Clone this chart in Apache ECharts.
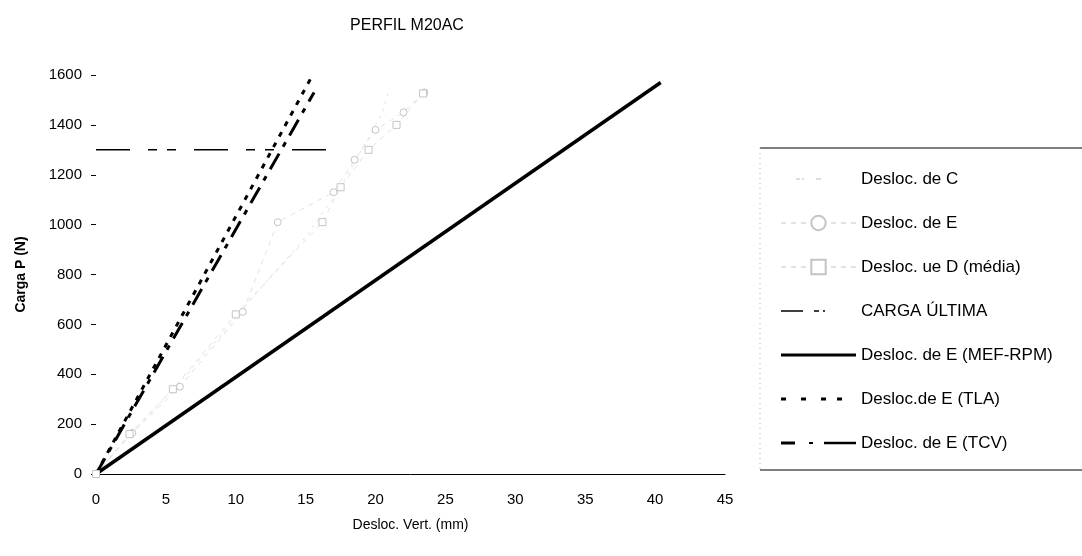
<!DOCTYPE html>
<html>
<head>
<meta charset="utf-8">
<script src="https://cdn.jsdelivr.net/npm/echarts@6/dist/echarts.min.js"></script>
<style>
html,body{margin:0;padding:0;background:#fff;}
#c{width:1082px;height:556px;}
</style>
</head>
<body>
<div id="c"></div>
<script>
var xTicks = [0, 5, 10, 15, 20, 25, 30, 35, 40, 45];
var yTicks = [0, 200, 400, 600, 800, 1000, 1200, 1400, 1600];

var deslocC = [[0,0],[1.5,100],[4,250],[6.5,400],[9,560],[12,760],[15,950],[17.5,1150],[19,1300],[20.5,1450],[21,1550]];
var deslocE = [[0,0],[2.6,165],[6,350],[10.5,650],[13,1010],[17,1130],[18.5,1260],[20,1380],[22,1450],[23.5,1530]];
var deslocD = [[0,0],[2.4,160],[5.5,340],[10,640],[16.2,1010],[17.5,1150],[19.5,1300],[21.5,1400],[23.4,1526]];
var cargaUltima = [[0,1300],[16.7,1300]];
var mefRpm = [[0,0],[40.4,1570]];
var tla = [[0,0],[15.4,1590]];
var tcv = [[0,0],[15.6,1530]];

var names = ['Desloc. de C','Desloc. de E','Desloc. ue D (média)','CARGA ÚLTIMA','Desloc. de E (MEF-RPM)','Desloc.de E (TLA)','Desloc. de E (TCV)'];

// legend icon builder: segments [x0, x1, thickness] inside a 75x14 box
function iconPath(segs) {
  var p = 'path://M0,0h0.01v0.01h-0.01z M74.99,13.99h0.01v0.01h-0.01z';
  segs.forEach(function (s) {
    var t = s[2], y = 7 - t / 2;
    p += ' M' + s[0] + ',' + y + 'h' + (s[1] - s[0]) + 'v' + t + 'h' + (s[0] - s[1]) + 'z';
  });
  return p;
}

var chart = echarts.init(document.getElementById('c'), null, {renderer:'canvas'});
var faint = '#e2e2e2';
var faintMark = '#c4c4c4';
var font = 'Liberation Sans, Arial, sans-serif';
chart.setOption({
  animation:false,
  backgroundColor:'#fff',
  textStyle:{fontFamily:font,color:'#000'},
  title:{text:'PERFIL M20AC',left:402,top:13,textAlign:'center',
    textStyle:{fontFamily:font,fontSize:16,fontWeight:'normal',color:'#000'}},
  grid:{left:96,right:357,top:75,bottom:82},
  legend:{
    orient:'vertical',left:775,top:165,itemWidth:75,itemHeight:18,itemGap:26,
    textStyle:{fontFamily:font,fontSize:17,lineHeight:18,color:'#000'},
    data:[
      {name:names[0],icon:iconPath([[15,19,1],[21,23,1],[35,40,1]]),itemStyle:{color:'#bbb',borderWidth:0}},
      {name:names[1]},
      {name:names[2]},
      {name:names[3],icon:iconPath([[0,22,1.3],[33,38,1.3],[42,44,1.3]]),itemStyle:{color:'#000',borderWidth:0}},
      {name:names[4],icon:iconPath([[0,75,3]]),itemStyle:{color:'#000',borderWidth:0}},
      {name:names[5],icon:iconPath([[0,5,3],[20,25,3],[40,45,3],[56,61,3]]),itemStyle:{color:'#000',borderWidth:0}},
      {name:names[6],icon:iconPath([[0,14,3],[28,32,2],[43,75,2.5]]),itemStyle:{color:'#000',borderWidth:0}}
    ]
  },
  xAxis:{
    type:'value',min:0,max:45,interval:5,
    name:'Desloc. Vert. (mm)',nameLocation:'middle',nameGap:44,
    nameTextStyle:{fontFamily:font,fontSize:14,color:'#000'},
    axisLine:{lineStyle:{color:'#000',width:1}},
    axisTick:{show:false},
    axisLabel:{fontFamily:font,fontSize:15,color:'#000',margin:18,
      formatter:function(v){return xTicks.indexOf(v)>=0?String(v):'';}},
    splitLine:{show:false}
  },
  yAxis:{
    type:'value',min:0,max:1600,interval:200,
    name:'Carga P (N)',nameLocation:'middle',nameGap:68,
    nameTextStyle:{fontFamily:font,fontSize:14,fontWeight:'bold',color:'#000'},
    axisLine:{show:false},
    axisTick:{show:true,length:5,lineStyle:{color:'#000'}},
    axisLabel:{fontFamily:font,fontSize:15,color:'#000',margin:14,
      formatter:function(v){return yTicks.indexOf(v)>=0?String(v):'';}},
    splitLine:{show:false}
  },
  graphic:[
    {type:'line',shape:{x1:760,y1:148,x2:1082,y2:148},style:{stroke:'#000',lineWidth:1}},
    {type:'line',shape:{x1:760,y1:470,x2:1082,y2:470},style:{stroke:'#000',lineWidth:1}},
    {type:'line',shape:{x1:760,y1:148,x2:760,y2:470},style:{stroke:'#aaa',lineWidth:1,lineDash:[1,4]}}
  ],
  series:[
    {name:names[0],type:'line',data:deslocC,symbol:'none',
      lineStyle:{color:faint,width:1,type:[3,5]},itemStyle:{color:faintMark}},
    {name:names[1],type:'line',data:deslocE,symbol:'circle',symbolSize:7,
      lineStyle:{color:faint,width:1,type:[5,5]},itemStyle:{color:'#fff',borderColor:faintMark,borderWidth:1}},
    {name:names[2],type:'line',data:deslocD,symbol:'rect',symbolSize:7,
      lineStyle:{color:faint,width:1,type:[5,5]},itemStyle:{color:'#fff',borderColor:faintMark,borderWidth:1}},
    {name:names[3],type:'line',data:cargaUltima,symbol:'none',
      lineStyle:{color:'#000',width:1.5,type:[34,18,9,10,9,18]},itemStyle:{color:'#000'}},
    {name:names[4],type:'line',data:mefRpm,symbol:'none',
      lineStyle:{color:'#000',width:3.5},itemStyle:{color:'#000'}},
    {name:names[5],type:'line',data:tla,symbol:'none',
      lineStyle:{color:'#000',width:3,type:[5,7]},itemStyle:{color:'#000'}},
    {name:names[6],type:'line',data:tcv,symbol:'none',
      lineStyle:{color:'#000',width:3,type:[18,8,5,8]},itemStyle:{color:'#000'}}
  ]
});
</script>
</body>
</html>
